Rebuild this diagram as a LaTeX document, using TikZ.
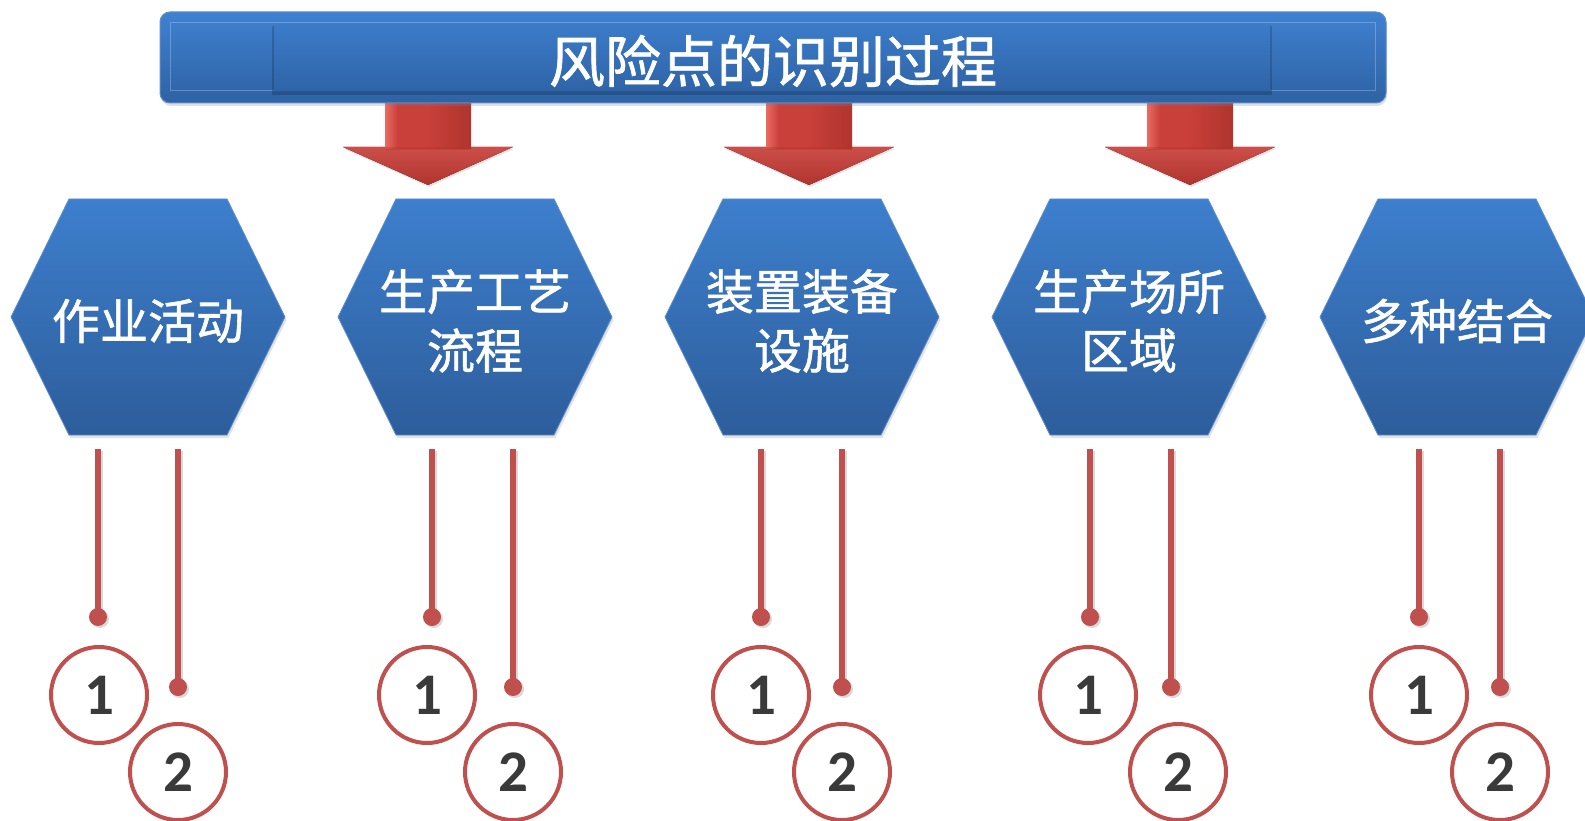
\documentclass[tikz,border=0pt]{standalone}
\usepackage{fontspec}
\newfontfamily\cjk{Noto Sans CJK SC}[FakeBold=1.2]
\newfontfamily\numfont{Carlito}
\usetikzlibrary{shadows,calc}
\definecolor{hexTop}{HTML}{3D7FCD}
\definecolor{hexBot}{HTML}{2D5D9B}
\definecolor{hexEdge}{HTML}{5A8ED0}
\definecolor{barTop}{HTML}{3F81D0}
\definecolor{barBot}{HTML}{2E62A4}
\definecolor{panelTop}{HTML}{3B7BC9}
\definecolor{panelBot}{HTML}{2F64A7}
\definecolor{redLine}{HTML}{C0504D}
\definecolor{numGray}{HTML}{3A3A3A}
\definecolor{arrLight}{HTML}{EC6A64}
\definecolor{arrMid}{HTML}{C93F39}
\definecolor{arrDark}{HTML}{B0342E}
\tikzset{
  hexbox/.style={top color=hexTop, bottom color=hexBot, draw=hexEdge, line width=0.8pt,
     drop shadow={shadow xshift=1.5pt, shadow yshift=-3pt, opacity=0.22}},
  hextext/.style={text=white, align=center, inner sep=0pt,
     font=\cjk\fontsize{48}{59}\selectfont},
  titletext/.style={text=white, inner sep=0pt, font=\cjk\fontsize{56}{60}\selectfont},
  redline/.style={draw=redLine, line width=6pt,
     preaction={draw=black, opacity=0.15, line width=6pt, transform canvas={xshift=2pt,yshift=-2pt}}},
  reddot/.style={fill=redLine,
     preaction={fill=black, opacity=0.15, transform canvas={xshift=2pt,yshift=-2pt}}},
  numcirc/.style={circle, draw=redLine, line width=4pt, fill=white, minimum size=96pt,
     inner sep=0pt, text=numGray, font=\numfont\bfseries\fontsize{59}{59}\selectfont},
  headshade/.style={top color=arrMid!92!white, bottom color=arrDark},
}
\begin{document}
\begin{tikzpicture}[x=1pt,y=-1pt]
\useasboundingbox (0,0) rectangle (1585,821);
\clip (0,0) rectangle (1585,821);
\fill[white] (0,0) rectangle (1585,821);

% ---------- block arrows ----------
\foreach \ax/\nm in {428/a1, 809/a2, 1190/a3}{
  \coordinate (\nm) at (\ax,103);
  \fill[headshade, drop shadow={shadow xshift=1pt, shadow yshift=-2pt, opacity=0.2}]
     ($(\nm)+(-85,44)$) -- ($(\nm)+(85,44)$) -- ($(\nm)+(0,82)$) -- cycle;
  \fill[arrMid] ($(\nm)+(-43,0)$) rectangle ($(\nm)+(43,46)$);
  \fill[left color=arrMid, right color=arrDark] ($(\nm)+(0,0)$) rectangle ($(\nm)+(43,46)$);
  \fill[left color=arrLight, right color=arrMid] ($(\nm)+(-43,0)$) rectangle ($(\nm)+(-30,46)$);
  \fill[arrDark, opacity=0.4] ($(\nm)+(-43,44)$) rectangle ($(\nm)+(43,47)$);
}

% ---------- title bar ----------
\path[top color=barTop, bottom color=barBot, draw=hexEdge, line width=1pt, rounded corners=10pt,
   drop shadow={shadow xshift=1pt, shadow yshift=-3pt, opacity=0.25}]
   (160,12) rectangle (1386,103);
\draw[white, opacity=0.25, line width=1pt] (170,23) rectangle (1375,91);
\fill[black, opacity=0.18] (272,26) rectangle (1272,95);
\path[top color=panelTop, bottom color=panelBot] (274,24) rectangle (1270,91);
\node[titletext] (title) at (773,61) {风险点的识别过程};

% ---------- hexagons ----------
\foreach \cx/\nm/\txt in {148/h1/{作业活动}, 475/h2/{生产工艺\\流程}, 802/h3/{装置装备\\设施},
                         1129/h4/{生产场所\\区域}, 1457/h5/{多种结合}}{
  \path[hexbox] (\cx-137,317) -- (\cx-79,199) -- (\cx+79,199) -- (\cx+137,317)
       -- (\cx+79,435) -- (\cx-79,435) -- cycle;
  \node[hextext] (\nm) at (\cx,321) {\txt};
}

% ---------- lines, dots and numbered circles ----------
\foreach \la/\lb/\ca/\cb/\g in {98/178/99/178/1, 432/513/427/513/2, 761/842/761/842/3,
                                1090/1171/1088/1178/4, 1419/1500/1419/1500/5}{
  \coordinate (t\g a) at (\la,449);
  \coordinate (d\g a) at (\la,617);
  \coordinate (t\g b) at (\lb,449);
  \coordinate (d\g b) at (\lb,687);
  \draw[redline] (t\g a) -- (d\g a);
  \draw[redline] (t\g b) -- (d\g b);
  \fill[reddot] (d\g a) circle (9pt);
  \fill[reddot] (d\g b) circle (9pt);
  \node[numcirc] (n\g a) at (\ca,695) {1};
  \node[numcirc] (n\g b) at (\cb,772) {2};
}
\end{tikzpicture}
\end{document}
